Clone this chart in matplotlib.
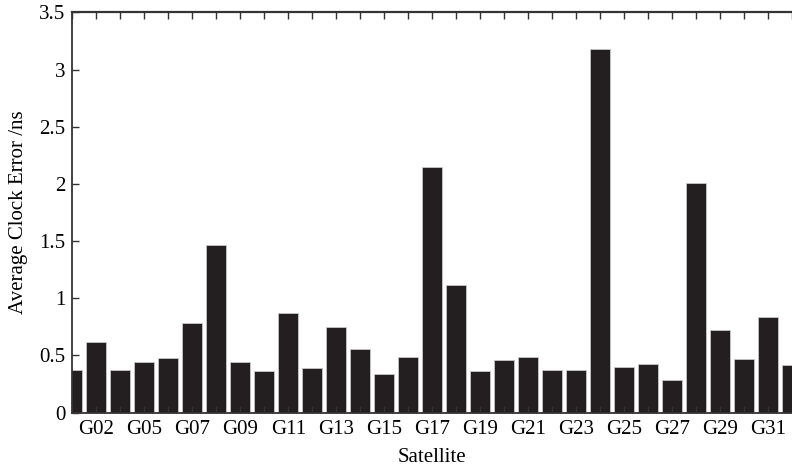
import numpy as np
import matplotlib
matplotlib.use("Agg")
import matplotlib.pyplot as plt

# satellites (G04 missing from the data set)
satellites = ["G01", "G02", "G03", "G05", "G06", "G07", "G08", "G09", "G10", "G11",
              "G12", "G13", "G14", "G15", "G16", "G17", "G18", "G19", "G20", "G21",
              "G22", "G23", "G24", "G25", "G26", "G27", "G28", "G29", "G30", "G31",
              "G32"]
clock_err = [0.373, 0.615, 0.373, 0.443, 0.478, 0.787, 1.466, 0.440, 0.364, 0.871,
             0.391, 0.752, 0.557, 0.341, 0.487, 2.151, 1.116, 0.364, 0.458, 0.490,
             0.370, 0.373, 3.177, 0.399, 0.423, 0.283, 2.005, 0.726, 0.466, 0.839,
             0.417]
y_ticks = [0, 0.5, 1, 1.5, 2, 2.5, 3, 3.5]
y_tick_labels = ["0", "0.5", "1", "1.5", "2", "2.5", "3", "3.5"]

plt.rcParams['font.family'] = ['Liberation Serif', 'DejaVu Serif']

fig = plt.figure(figsize=(7.92, 4.66), dpi=100)
ax = fig.add_axes([0.0913, 0.1144, 0.9087, 0.8592])

x = np.arange(len(satellites))
ax.bar(x, clock_err, width=0.84, color='#231f20', edgecolor='#c8c8c8', linewidth=0.6)

ax.set_xlim(0, 29.68)
ax.set_ylim(0, 3.5)
ax.set_xticks(x)
ax.set_xticklabels([s if i % 2 == 1 else "" for i, s in enumerate(satellites)])
ax.set_yticks(y_ticks)
ax.set_yticklabels(y_tick_labels)

ax.tick_params(axis='x', direction='in', top=True, bottom=True, length=5, width=1,
               color='#333333', labelsize=15, pad=5)
ax.tick_params(axis='y', direction='in', left=True, right=False, length=5, width=1,
               color='#333333', labelsize=15, pad=5)

ax.spines['right'].set_visible(False)
ax.spines['top'].set_linewidth(1.6)
ax.spines['left'].set_linewidth(1.3)
ax.spines['bottom'].set_linewidth(1.3)
for s in ax.spines.values():
    s.set_color('#333333')

ax.set_xlabel('Satellite', fontsize=15, labelpad=7)
ax.set_ylabel('Average Clock Error /ns', fontsize=15, labelpad=8)

fig.savefig('out.png', dpi=100)
